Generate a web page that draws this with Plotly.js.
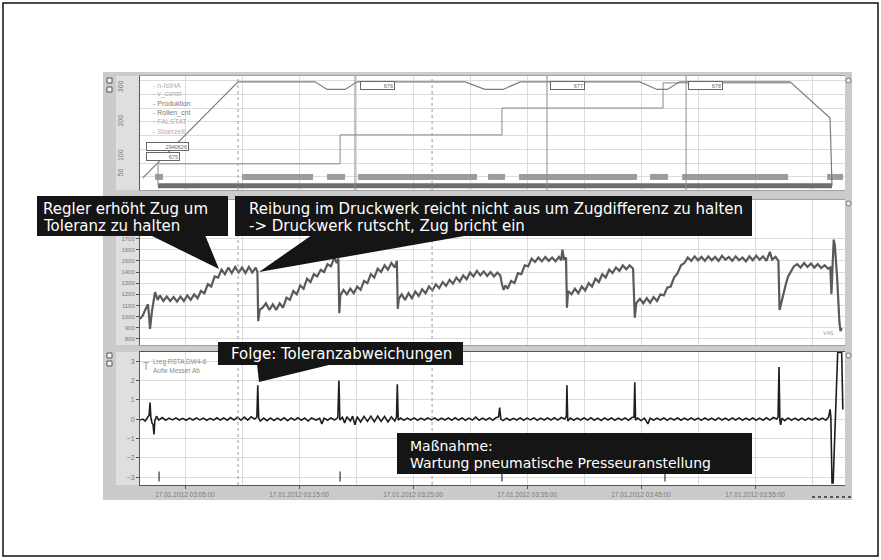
<!DOCTYPE html>
<html><head><meta charset="utf-8">
<script src="https://cdn.plot.ly/plotly-3.0.1.min.js"></script>
<style>html,body{margin:0;padding:0;background:#fff}#chart{width:881px;height:560px}</style>
</head><body><div id="chart"></div>
<script>
// ---- DATA (time in minutes after 17.01.2012 03:00:00) ----
const xRangeMin = [1.05, 62.89];

// top panel: line speed (m/min)
const speedPoints = [[1.3,37],[9.65,316],[16.4,316],[17.46,294],[19.04,294],[20.1,316],[29.56,316],[31.3,294],[32.9,294],[34.4,316],[44.9,316],[46.4,294],[47.3,294],[48.4,316],[58.07,316],[61.58,211],[61.75,14]];
// top panel: roll counter step line
const stepPoints = [[2.63,14],[2.63,78],[18.6,78],[18.6,162],[32.8,162],[32.8,240],[46.93,240],[46.93,313],[58.07,313]];
// top panel: production status bars (start/end)
const prodStart = [2.37,10.0,17.46,20.18,31.58,34.3,45.79,48.6,61.32];
const prodEnd   = [3.07,16.23,19.04,30.61,33.07,44.65,47.37,57.9,62.72];
const runStart = [2.63];
const runEnd   = [61.75];
const prodLevel = 40;
const runLevel = 14;
// roll labels
const rollLabelText = ['676','677','678'];
const rollLabelMin  = [20.35, 37.02, 49.12];
const rollLabelVal  = 304;
const leftLabelText = ['2940626','675'];
const leftLabelVal  = [128, 99];
const leftLabelMin  = 1.58;
const rollLineMin = [19.91, 36.75, 48.95];
const cursorMin = [9.65, 26.67];
const topTickVals = [0,50,100,200,300];
const topTickText = ['0','50','100','200','300'];
const midTickVals = [800,900,1000,1100,1200,1300,1400,1500,1600,1700];
const topLegend = ['n-IstHA','v_const','Produktion','Rollen_cnt','FALSTAT','Stoerzeit'];
const topLegendColor = ['#b0b0b0','#b0b0b0','#7a7a7a','#7a7a7a','#b0b0b0','#b0b0b0'];

// middle panel: web tension (N)
const tensionPoints = [[1.05,980],[1.3,1010],[1.5,1060],[1.75,1110],[1.85,1000],[1.93,890],[2.1,1050],[2.37,1220],[2.6,1150],[2.8,1190],[3.1,1140],[3.4,1180],[3.7,1140],[4.0,1175],[4.3,1135],[4.6,1180],[4.9,1140],[5.2,1190],[5.5,1150],[5.8,1200],[6.1,1165],[6.4,1230],[6.7,1210],[7.0,1290],[7.3,1270],[7.6,1360],[7.9,1350],[8.2,1420],[8.5,1380],[8.8,1440],[9.1,1390],[9.4,1445],[9.7,1395],[10.0,1440],[10.3,1390],[10.6,1445],[10.9,1395],[11.2,1440],[11.35,1400],
[11.42,960],[11.55,1060],
[11.8,1080],[12.1,1120],[12.4,1060],[12.7,1110],[13.0,1060],[13.3,1120],[13.6,1080],[13.9,1170],[14.2,1150],[14.5,1230],[14.8,1200],[15.1,1280],[15.4,1250],[15.7,1340],[16.0,1310],[16.3,1380],[16.6,1360],[16.9,1420],[17.2,1400],[17.5,1470],[17.8,1450],[18.1,1530],[18.3,1480],[18.45,1520],
[18.53,1030],[18.62,1190],
[18.9,1240],[19.2,1200],[19.5,1250],[19.8,1210],[20.1,1270],[20.4,1240],[20.7,1320],[21.0,1300],[21.3,1380],[21.6,1350],[21.9,1430],[22.2,1400],[22.5,1460],[22.8,1420],[23.1,1480],[23.4,1440],[23.58,1500],
[23.66,1070],[23.75,1160],
[24.0,1200],[24.3,1150],[24.6,1210],[24.9,1165],[25.2,1225],[25.5,1185],[25.8,1245],[26.1,1210],[26.4,1270],[26.7,1235],[27.0,1290],[27.3,1255],[27.6,1310],[27.9,1275],[28.2,1330],[28.5,1295],[28.8,1350],[29.1,1315],[29.4,1370],[29.7,1335],[30.0,1395],[30.3,1360],[30.6,1410],[30.9,1370],[31.2,1405],[31.5,1365],[31.8,1400],[32.1,1360],[32.4,1395],[32.65,1370],
[32.8,1290],[32.95,1240],[33.1,1280],[33.3,1250],[33.6,1320],[33.9,1300],[34.2,1390],[34.5,1380],[34.8,1460],[35.1,1450],[35.4,1520],[35.7,1490],[36.0,1530],[36.3,1495],[36.6,1535],[36.9,1500],[37.2,1530],[37.5,1495],[37.8,1535],[38.0,1505],[38.1,1600],[38.25,1510],[38.42,1530],
[38.5,1080],[38.6,1230],
[38.9,1200],[39.2,1250],[39.5,1210],[39.8,1270],[40.1,1235],[40.4,1300],[40.7,1270],[41.0,1340],[41.3,1310],[41.6,1380],[41.9,1350],[42.2,1420],[42.5,1390],[42.8,1440],[43.1,1410],[43.4,1460],[43.7,1425],[44.0,1460],[44.3,1430],
[44.45,990],[44.58,1120],
[44.9,1160],[45.2,1120],[45.5,1165],[45.8,1125],[46.1,1175],[46.4,1140],[46.7,1200],[47.0,1190],[47.3,1260],[47.6,1270],[47.9,1350],[48.2,1390],[48.5,1460],[48.8,1480],[49.1,1530],[49.4,1500],[49.7,1540],[50.0,1505],[50.3,1535],[50.6,1500],[50.9,1540],[51.2,1505],[51.5,1535],[51.8,1500],[52.1,1545],[52.4,1510],[52.7,1535],[53.0,1500],[53.3,1540],[53.6,1505],[53.9,1530],[54.2,1495],[54.5,1540],[54.8,1505],[55.1,1545],[55.4,1510],[55.7,1540],[56.0,1500],[56.3,1580],[56.5,1510],[56.8,1535],[57.05,1500],
[57.15,1060],
[57.3,1130],[57.5,1220],[57.7,1290],[57.9,1360],[58.1,1400],[58.4,1450],[58.7,1470],[59.0,1440],[59.3,1480],[59.6,1445],[59.9,1475],[60.2,1440],[60.5,1470],[60.8,1435],[61.1,1460],[61.4,1430],[61.6,1440],[61.7,1200],[61.8,1450],[61.9,1690],[62.0,1640],[62.2,1350],[62.4,950],[62.5,870],[62.6,900]];

// bottom panel: tension deviation
const deviationPoints = [[1.05,-0.05],[1.3,0.0],[1.5,-0.1],[1.7,0.05],[1.85,0.2],[1.93,0.85],[2.0,0.1],[2.1,-0.2],[2.2,-0.3],[2.28,-0.8],[2.35,-0.1],[2.5,0.15],[2.7,-0.05],[3.0,0.08],[3.3,-0.06],[3.6,0.05],[3.9,-0.04],[4.2,0.06],[4.5,-0.05],[4.8,0.04],[5.1,-0.06],[5.4,0.05],[5.7,-0.05],[6.0,0.06],[6.3,-0.04],[6.6,0.05],[6.9,-0.06],[7.2,0.04],[7.5,-0.05],[7.8,0.07],[8.1,-0.05],[8.4,0.06],[8.7,-0.06],[9.0,0.08],[9.3,-0.05],[9.6,0.1],[9.9,-0.06],[10.2,0.1],[10.5,-0.05],[10.8,0.12],[11.1,0.0],[11.3,0.1],[11.38,1.75],[11.46,0.05],[11.6,-0.1],[11.9,0.05],[12.2,-0.08],[12.5,0.06],[12.8,-0.07],[13.1,0.05],[13.4,-0.06],[13.7,0.07],[14.0,-0.08],[14.3,0.06],[14.6,-0.05],[14.9,0.07],[15.2,-0.06],[15.5,0.05],[15.8,-0.1],[16.1,0.06],[16.5,-0.05],[16.8,0.04],[17.0,-0.25],[17.2,0.05],[17.5,-0.06],[17.8,0.06],[18.1,-0.05],[18.4,0.08],[18.5,2.0],[18.58,-0.05],[18.8,0.1],[19.0,-0.2],[19.2,0.12],[19.5,-0.1],[19.7,0.15],[19.9,-0.3],[20.1,0.12],[20.4,-0.15],[20.7,0.14],[21.0,-0.12],[21.3,0.15],[21.6,-0.14],[21.9,0.16],[22.2,-0.12],[22.5,0.14],[22.8,-0.15],[23.1,0.12],[23.4,-0.1],[23.55,0.1],[23.62,1.8],[23.7,-0.05],[23.9,0.05],[24.2,-0.06],[24.5,0.05],[24.8,-0.05],[25.1,0.06],[25.4,-0.06],[25.7,0.05],[26.0,-0.05],[26.3,0.06],[26.6,-0.04],[26.9,0.06],[27.2,-0.06],[27.5,0.05],[27.8,-0.05],[28.1,0.06],[28.4,-0.06],[28.7,0.07],[29.0,-0.05],[29.3,0.06],[29.6,-0.06],[29.9,0.05],[30.2,-0.05],[30.5,0.1],[30.8,-0.06],[31.1,0.05],[31.4,-0.05],[31.7,0.06],[32.0,-0.06],[32.3,0.08],[32.5,0.1],[32.6,0.6],[32.7,0.0],[32.9,-0.08],[33.2,0.05],[33.5,-0.06],[33.8,0.04],[34.1,-0.05],[34.4,0.06],[34.7,-0.06],[35.0,0.05],[35.3,-0.04],[35.6,0.06],[35.9,-0.06],[36.2,0.05],[36.5,-0.05],[36.8,0.06],[37.1,-0.05],[37.4,0.07],[37.7,-0.05],[38.0,0.08],[38.3,0.0],[38.45,0.15],[38.5,1.75],[38.57,-0.1],[38.8,0.05],[39.1,-0.06],[39.4,0.05],[39.7,-0.05],[40.0,0.06],[40.3,-0.05],[40.6,0.07],[40.9,-0.06],[41.2,0.05],[41.5,-0.07],[41.8,0.06],[42.1,-0.05],[42.4,0.06],[42.7,-0.06],[43.0,0.05],[43.3,-0.05],[43.6,0.06],[43.9,-0.06],[44.2,0.08],[44.38,0.1],[44.45,1.9],[44.52,-0.05],[44.7,0.05],[45.0,-0.08],[45.3,0.05],[45.6,-0.25],[45.8,0.05],[46.1,-0.06],[46.4,0.05],[46.7,-0.05],[47.0,0.06],[47.3,-0.06],[47.6,0.05],[47.9,-0.05],[48.2,0.06],[48.5,-0.06],[48.8,0.05],[49.1,-0.05],[49.4,0.06],[49.7,-0.05],[50.0,0.05],[50.3,-0.06],[50.6,0.06],[50.9,-0.05],[51.2,0.05],[51.5,-0.06],[51.8,0.06],[52.1,-0.05],[52.4,0.05],[52.7,-0.06],[53.0,0.06],[53.3,-0.05],[53.6,0.06],[53.9,-0.06],[54.2,0.05],[54.5,-0.05],[54.8,0.06],[55.1,-0.06],[55.4,0.05],[55.7,-0.06],[56.0,0.07],[56.3,-0.05],[56.6,0.08],[56.9,0.0],[57.02,0.1],[57.1,2.7],[57.18,-0.1],[57.25,-0.3],[57.35,0.05],[57.6,-0.08],[57.9,0.06],[58.2,-0.06],[58.5,0.05],[58.8,-0.06],[59.1,0.05],[59.4,-0.06],[59.7,0.05],[60.0,-0.05],[60.3,0.06],[60.6,-0.05],[60.9,0.05],[61.2,-0.06],[61.45,0.1],[61.58,0.5],[61.65,0.1],[61.75,-3.3],[61.85,-3.3],[61.95,-1.5],[62.1,1.5],[62.25,3.45],[62.6,3.45],[62.7,0.5]];
const eventMin = [2.72, 18.6, 32.8, 47.1];
const eventVal = -2.97;
const bottomLegend = ['Lreg RSTA DW4-6','Aufw Messer Ab'];

// callouts (one entry per box, one string per line)
const calloutLines = [
  ['Regler erhöht Zug um','Toleranz zu halten'],
  ['Reibung im Druckwerk reicht nicht aus um Zugdifferenz zu halten','-> Druckwerk rutscht, Zug bricht ein'],
  ['Folge: Toleranzabweichungen'],
  ['Maßnahme:','Wartung pneumatische Presseuranstellung']];

// ---- helpers ----
const W = 881, H = 560;
const P = x => x / W, Q = y => 1 - y / H;
function T(m){
  const d = new Date(Date.UTC(2012,0,17,3,0,0) + Math.round(m*60000));
  return d.toISOString().replace('T',' ').replace('Z','');
}
const xs = pts => pts.map(p => T(p[0]));
const ys = pts => pts.map(p => p[1]);
function segs(starts, ends, level){
  const x=[], y=[];
  starts.forEach((s,i)=>{x.push(T(s),T(ends[i]),null); y.push(level,level,null);});
  return {x,y};
}
const prod = segs(prodStart, prodEnd, prodLevel);
const run = segs(runStart, runEnd, runLevel);

const traces = [
  {x: run.x, y: run.y, xaxis:'x', yaxis:'y', mode:'lines', line:{color:'#6e6e6e', width:5}, hoverinfo:'skip'},
  {x: prod.x, y: prod.y, xaxis:'x', yaxis:'y', mode:'lines', line:{color:'#9c9c9c', width:6}, hoverinfo:'skip'},
  {x: xs(stepPoints), y: ys(stepPoints), xaxis:'x', yaxis:'y', mode:'lines', line:{color:'#8a8a8a', width:1}},
  {x: xs(speedPoints), y: ys(speedPoints), xaxis:'x', yaxis:'y4', mode:'lines', line:{color:'#7c7c7c', width:1.2}},
  {x: xs(tensionPoints), y: ys(tensionPoints), xaxis:'x2', yaxis:'y2', mode:'lines', line:{color:'#5a5a5a', width:2.2}},
  {x: xs(deviationPoints), y: ys(deviationPoints), xaxis:'x3', yaxis:'y3', mode:'lines', line:{color:'#1e1e1e', width:1.6}},
  {x: eventMin.map(T), y: eventMin.map(()=>eventVal), xaxis:'x3', yaxis:'y3', mode:'markers', marker:{symbol:'line-ns-open', size:7, color:'#333', line:{width:1.2, color:'#333'}}}
];

const tickFont = {family:'Liberation Sans, Arial, sans-serif', size:6.5, color:'#7a7a7a'};
const grid = '#dcdcdc';
const xr = xRangeMin.map(T);
const xBase = {type:'date', range:xr, domain:[P(140),P(845)], tick0:T(5), dtick:300000, showgrid:true, gridcolor:grid, gridwidth:1,
  zeroline:false, showline:true, linecolor:'#a0a0a0', mirror:true, ticks:'', showticklabels:false, automargin:false, fixedrange:true};

const shapes = [
  {type:'rect', xref:'paper', yref:'paper', x0:P(103), x1:P(852), y0:Q(500), y1:Q(72), fillcolor:'#cbcbcb', line:{width:0}, layer:'below'},
  {type:'rect', xref:'paper', yref:'paper', x0:P(116), x1:P(140), y0:Q(190), y1:Q(76), fillcolor:'#dfdfdf', line:{width:0}, layer:'below'},
  {type:'rect', xref:'paper', yref:'paper', x0:P(116), x1:P(140), y0:Q(345), y1:Q(200), fillcolor:'#dfdfdf', line:{width:0}, layer:'below'},
  {type:'rect', xref:'paper', yref:'paper', x0:P(116), x1:P(140), y0:Q(485), y1:Q(352), fillcolor:'#dfdfdf', line:{width:0}, layer:'below'},
  {type:'rect', xref:'paper', yref:'paper', x0:P(140), x1:P(845), y0:Q(190), y1:Q(76), fillcolor:'#ffffff', line:{width:0}, layer:'below'},
  {type:'rect', xref:'paper', yref:'paper', x0:P(140), x1:P(845), y0:Q(345), y1:Q(200), fillcolor:'#ffffff', line:{width:0}, layer:'below'},
  {type:'rect', xref:'paper', yref:'paper', x0:P(140), x1:P(845), y0:Q(485), y1:Q(352), fillcolor:'#ffffff', line:{width:0}, layer:'below'},
  {type:'rect', xref:'paper', yref:'paper', x0:P(3), x1:P(878), y0:Q(556), y1:Q(3), line:{color:'#111', width:1.5}, layer:'above'}
];
// toolbar icons
[78,87,353,361].forEach(y=>{
  shapes.push({type:'rect', xref:'paper', yref:'paper', x0:P(107), x1:P(112), y0:Q(y+5), y1:Q(y), fillcolor:'#f4f4f4', line:{color:'#555', width:1}, layer:'above'});
});
[78,201,353].forEach(y=>{
  shapes.push({type:'circle', xref:'paper', yref:'paper', x0:P(846), x1:P(851), y0:Q(y+5), y1:Q(y), fillcolor:'#eeeeee', line:{color:'#777', width:1}, layer:'above'});
});
shapes.push({type:'line', xref:'paper', yref:'paper', x0:P(812), x1:P(852), y0:Q(497), y1:Q(497), line:{color:'#555', width:2, dash:'dot'}, layer:'above'});
// roll change lines (top panel)
rollLineMin.forEach(m=>shapes.push({type:'line', xref:'x', yref:'y domain', x0:T(m), x1:T(m), y0:0, y1:1, line:{color:'#8c8c8c', width:1}, layer:'above'}));
// cursor lines
[['x','y domain'],['x2','y2 domain'],['x3','y3 domain']].forEach(ax=>{
  cursorMin.forEach(m=>shapes.push({type:'line', xref:ax[0], yref:ax[1], x0:T(m), x1:T(m), y0:0, y1:1, line:{color:'#9a9a9a', width:1, dash:'dot'}, layer:'above'}));
});
// callout boxes & pointers
const boxes = [[37,196,228,236],[235,196,752,236],[218,342,463,365],[397,433,752,474]];
boxes.forEach(b=>shapes.push({type:'rect', xref:'paper', yref:'paper', x0:P(b[0]), x1:P(b[2]), y0:Q(b[3]), y1:Q(b[1]), fillcolor:'#151515', line:{color:'#151515', width:0}, layer:'above'}));
const tri = (pts)=>'M'+pts.map(p=>P(p[0])+','+Q(p[1])).join(' L')+' Z';
[[[150,235],[205,235],[219,269]],[[312,235],[470,235],[259,272]],[[257,364],[333,364],[259,382]]].forEach(t=>
  shapes.push({type:'path', xref:'paper', yref:'paper', path:tri(t), fillcolor:'#151515', line:{width:0}, layer:'above'}));

const annotations = [];
const calloutPos = [[41,209],[247,209],[229,354],[408,446]];
const calloutSize = [15,15,15,14];
calloutLines.forEach((lines,i)=>lines.forEach((t,j)=>annotations.push({xref:'paper', yref:'paper', x:P(calloutPos[i][0]), y:Q(calloutPos[i][1]+j*16.5), xanchor:'left', yanchor:'middle', align:'left', text:t, showarrow:false, font:{family:'DejaVu Sans, sans-serif', size:calloutSize[i], color:'#ffffff'}})));
// top legend
topLegend.forEach((t,i)=>annotations.push({xref:'paper', yref:'paper', x:P(151), y:Q(85+i*9.2), xanchor:'left', yanchor:'middle', text:'- '+t, showarrow:false, font:{family:'Liberation Sans, Arial', size:7, color:topLegendColor[i]}}));
bottomLegend.forEach((t,i)=>annotations.push({xref:'paper', yref:'paper', x:P(151), y:Q(362+i*8), xanchor:'left', yanchor:'middle', text:t, showarrow:false, font:{family:'Liberation Sans, Arial', size:6.5, color:'#8a8a8a'}}));
annotations.push({xref:'paper', yref:'paper', x:P(146), y:Q(366), xanchor:'center', yanchor:'middle', text:'T', showarrow:false, font:{family:'Liberation Sans, Arial', size:10, color:'#999'}});
annotations.push({xref:'paper', yref:'paper', x:P(836), y:Q(333), xanchor:'right', yanchor:'middle', text:'V4S', showarrow:false, font:{family:'Liberation Sans, Arial', size:5.5, color:'#999'}});
// roll labels
const boxFont = {family:'Liberation Sans, Arial', size:5.5, color:'#666'};
rollLabelText.forEach((t,i)=>annotations.push({xref:'x', yref:'y', x:T(rollLabelMin[i]), y:rollLabelVal, xanchor:'left', yanchor:'middle', text:t, align:'right', width:31, height:5, borderpad:1, borderwidth:1, bordercolor:'#666', bgcolor:'#ffffff', showarrow:false, font:boxFont}));
leftLabelText.forEach((t,i)=>annotations.push({xref:'x', yref:'y', x:T(leftLabelMin), y:leftLabelVal[i], xanchor:'left', yanchor:'middle', text:t, align:'right', width:i===0?39:30, height:5, borderpad:1, borderwidth:1, bordercolor:'#666', bgcolor:'#ffffff', showarrow:false, font:boxFont}));

const layout = {
  width:W, height:H, margin:{l:0,r:0,t:0,b:0}, paper_bgcolor:'#ffffff', plot_bgcolor:'rgba(0,0,0,0)', showlegend:false,
  xaxis: Object.assign({}, xBase, {anchor:'y'}),
  yaxis: {domain:[Q(190),Q(76)], anchor:'x', range:[2,333], tick0:0, dtick:40, showgrid:true, gridcolor:grid, showticklabels:false, zeroline:false, showline:true, linecolor:'#555', ticks:'', automargin:false, fixedrange:true},
  yaxis4: {overlaying:'y', anchor:'free', position:P(124), side:'left', range:[2,333], tickvals:topTickVals, ticktext:topTickText, tickangle:-90, showgrid:false, zeroline:false, showline:false, ticks:'', tickfont:Object.assign({}, tickFont, {size:7}), automargin:false, fixedrange:true},
  xaxis2: Object.assign({}, xBase, {anchor:'y2', matches:'x'}),
  yaxis2: {domain:[Q(345),Q(200)], anchor:'x2', range:[746,2045], tickvals:midTickVals, showgrid:true, gridcolor:grid, zeroline:false, showline:true, linecolor:'#555', ticks:'outside', ticklen:3, tickcolor:'#555', tickfont:Object.assign({}, tickFont, {size:6}), automargin:false, fixedrange:true},
  xaxis3: Object.assign({}, xBase, {anchor:'y3', matches:'x', showticklabels:true, dtick:600000, tickformat:'%d.%m.%Y %H:%M:%S', ticks:'outside', ticklen:3, tickcolor:'#555', linecolor:'#555', tickfont:tickFont,
    minor:{tick0:T(5), dtick:300000, showgrid:true, gridcolor:grid, ticks:''}}),
  yaxis3: {domain:[Q(485),Q(352)], anchor:'x3', range:[-3.41,3.47], tick0:0, dtick:1, showgrid:true, gridcolor:grid, zeroline:false, showline:true, linecolor:'#555', ticks:'outside', ticklen:3, tickcolor:'#555', tickfont:Object.assign({}, tickFont, {size:7}), automargin:false, fixedrange:true},
  shapes: shapes,
  annotations: annotations
};
Plotly.newPlot('chart', traces, layout, {displayModeBar:false, staticPlot:true});
</script></body></html>
